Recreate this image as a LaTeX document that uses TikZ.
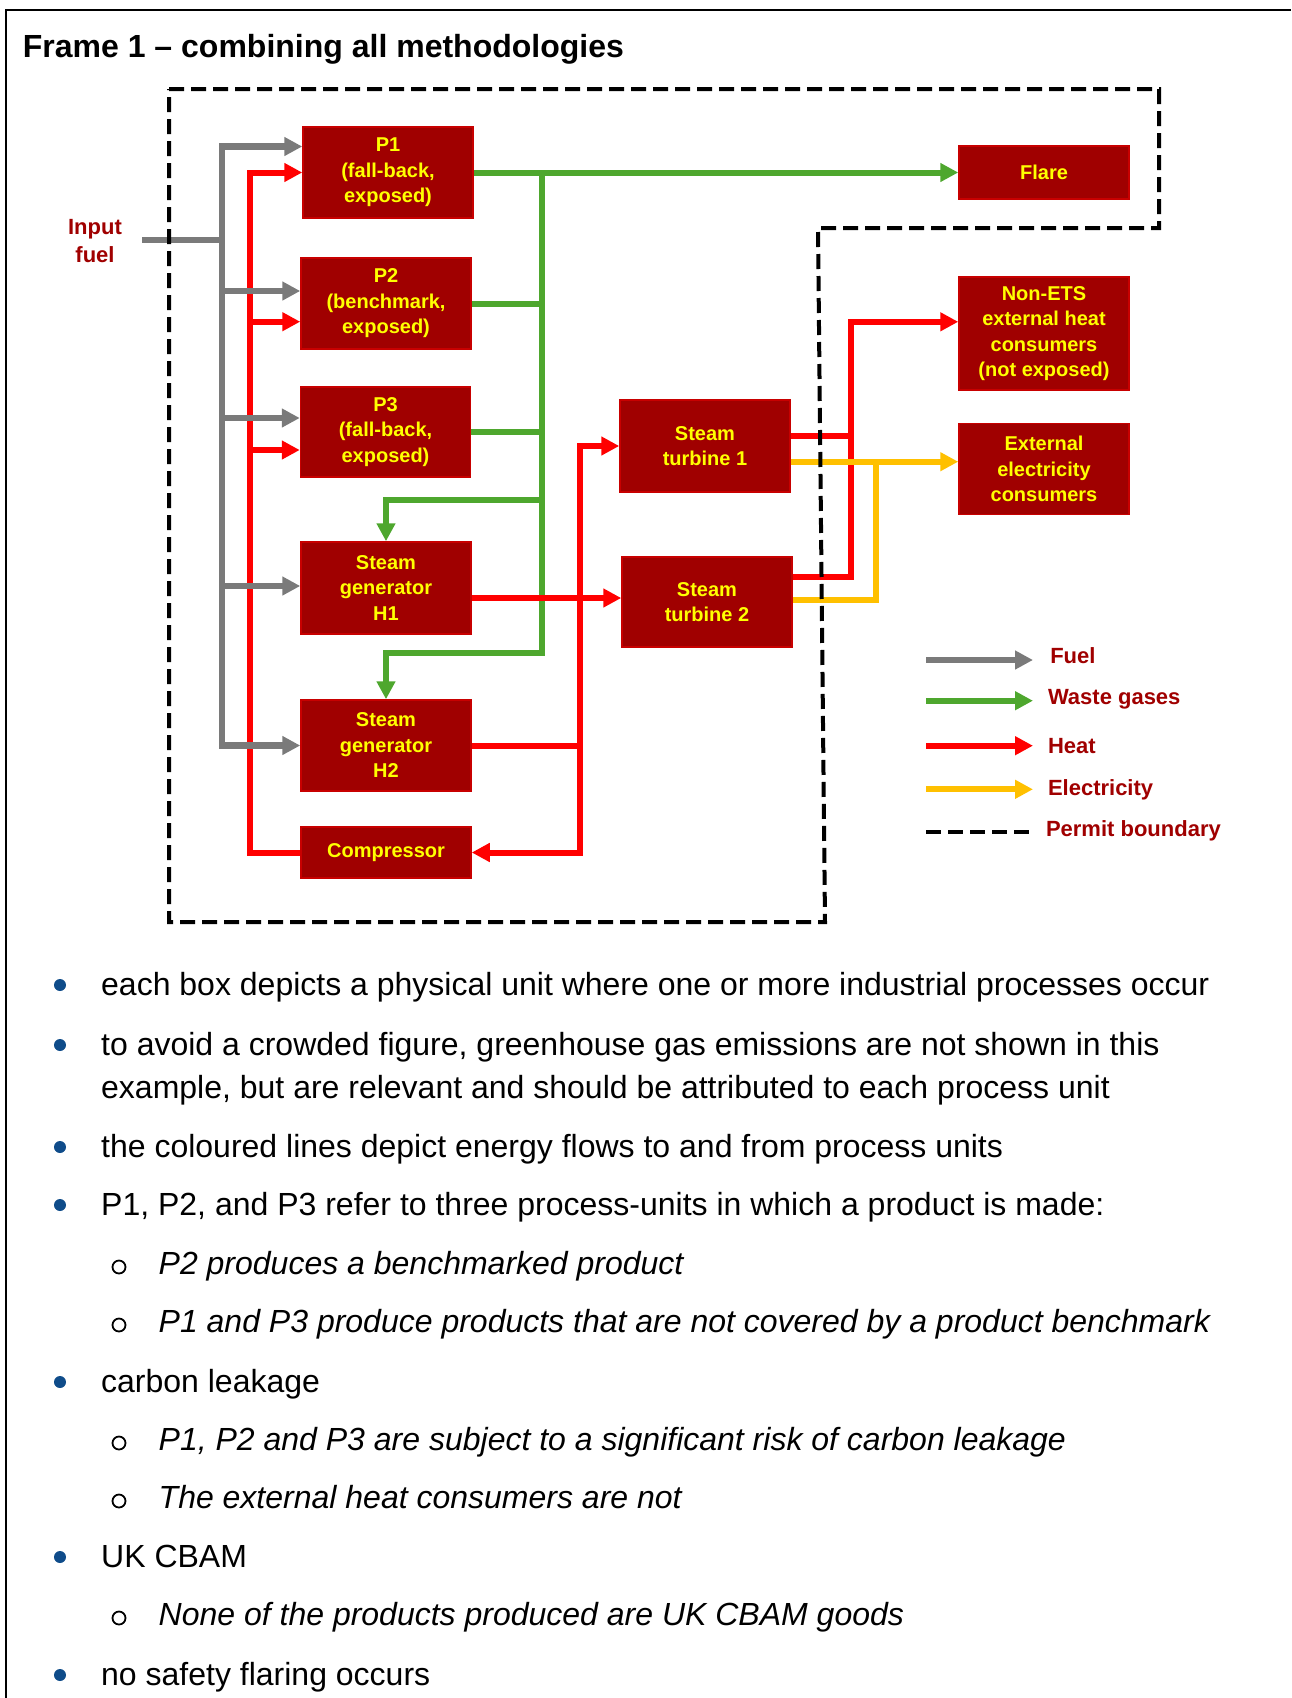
\documentclass[tikz,border=0pt]{standalone}
\usepackage{fontspec}
\setmainfont{Liberation Sans}
\usetikzlibrary{arrows.meta,calc}
\definecolor{unitred}{HTML}{A00000}
\definecolor{unitedge}{HTML}{C80000}
\definecolor{unittext}{HTML}{FFFF00}
\definecolor{labelred}{HTML}{A00000}
\definecolor{fuelgray}{HTML}{7A7A7A}
\definecolor{wastegreen}{HTML}{4EA72E}
\definecolor{heatred}{HTML}{FF0000}
\definecolor{elecyellow}{HTML}{FFC000}
\definecolor{bulletblue}{HTML}{0F4C8A}
\newcommand{\unitfont}{\fontsize{20}{25.5}\selectfont\bfseries}
\newcommand{\bodyfont}{\fontsize{32}{38}\selectfont}

\begin{document}
\begin{tikzpicture}[x=1pt,y=-1pt,>={Triangle[length=18pt,width=18pt]},
  unitbox/.style={draw=unitedge,line width=1.5pt,fill=unitred,text=unittext,font=\unitfont,
    align=center,minimum width=170pt,inner sep=0pt},
  fuelpipe/.style={draw=fuelgray,line width=6.5pt},
  wastepipe/.style={draw=wastegreen,line width=6pt},
  heatpipe/.style={draw=heatred,line width=6pt},
  elecpipe/.style={draw=elecyellow,line width=6pt},
  permit/.style={draw=black,line width=4pt,dash pattern=on 15pt off 7pt},
  legendtext/.style={text=labelred,font=\fontsize{22}{26}\selectfont\bfseries,anchor=west,inner sep=0pt},
  bullettext/.style={anchor=base west,font=\bodyfont,inner sep=0pt}]
\useasboundingbox (0,0) rectangle (1291,1698);
\draw[line width=2pt] (6,1698) -- (6,10) -- (1291,10);
\node[anchor=base west,inner sep=0pt,font=\fontsize{32}{38}\selectfont\bfseries] (title) at (22.7,57) {Frame 1 -- combining all methodologies};

\node[unitbox,minimum height=91pt] (p1) at (388,172.5) {P1\\(fall-back,\\exposed)};
\node[unitbox,minimum height=91pt] (p2) at (386,303.5) {P2\\(benchmark,\\exposed)};
\node[unitbox,minimum height=90pt] (p3) at (385.5,432) {P3\\(fall-back,\\exposed)};
\node[unitbox,minimum height=92pt] (h1) at (386,588) {Steam\\generator\\H1};
\node[unitbox,minimum height=91pt] (h2) at (386,745.5) {Steam\\generator\\H2};
\node[unitbox,minimum height=51pt] (comp) at (386,852.5) {Compressor};
\node[unitbox,minimum height=92pt] (st1) at (705,446) {Steam\\turbine 1};
\node[unitbox,minimum height=90pt] (st2) at (707,602) {Steam\\turbine 2};
\node[unitbox,minimum height=53pt] (flare) at (1044,172.5) {Flare};
\node[unitbox,minimum height=113pt] (nonets) at (1044,333.5) {Non-ETS\\external heat\\consumers\\(not exposed)};
\node[unitbox,minimum height=91pt] (extel) at (1044,469) {External\\electricity\\consumers};
\node[text=labelred,font=\fontsize{22}{28}\selectfont\bfseries,align=center,inner sep=0pt] (input) at (95,241) {Input\\fuel};

\coordinate (hl1) at (250,172.5);
\coordinate (hl2) at (250,321.7);
\coordinate (hl3) at (250,450);
\draw[heatpipe,->] (comp.west) -| (hl1) -- (p1.west);
\draw[heatpipe,->] (hl2) -- (hl2 -| p2.west);
\draw[heatpipe,->] (hl3) -- (hl3 -| p3.west);

\coordinate (fj0) at (222,240);
\coordinate (fj2) at (222,291);
\coordinate (fj3) at (222,418);
\coordinate (fj4) at (222,586);
\draw[fuelpipe,->] (142,240) -- (fj0) |- ([yshift=26pt]p1.west);
\draw[fuelpipe,->] (fj0) |- (h2.west);
\draw[fuelpipe,->] (fj2) -- (fj2 -| p2.west);
\draw[fuelpipe,->] (fj3) -- (fj3 -| p3.west);
\draw[fuelpipe,->] (fj4) -- (fj4 -| h1.west);

\coordinate (wj1) at (541.5,172.5);
\coordinate (wj3) at (541.5,500);
\coordinate (wj4) at (541.5,653.3);
\draw[wastepipe,->] (p1.east) -- (flare.west);
\draw[wastepipe,->] (wj1) -- (wj4) -| (h2.north);
\draw[wastepipe] (p2.east) -- (p2.east -| wj1);
\draw[wastepipe] (p3.east) -- (p3.east -| wj1);
\draw[wastepipe,->] (wj3) -| (h1.north);

\coordinate (h1out) at ([yshift=-10pt]h1.east);
\coordinate (hm) at (580,745.5);
\draw[heatpipe,->] (h1out) -- (h1out -| st2.west);
\draw[heatpipe,->] (h2.east) -- (hm) |- (st1.west);
\draw[heatpipe,->] (hm) |- (comp.east);

\coordinate (st1h) at ([yshift=10pt]st1.east);
\coordinate (st1e) at ([yshift=-15.7pt]st1.east);
\coordinate (st2h) at ([yshift=25pt]st2.east);
\coordinate (st2e) at ([yshift=2pt]st2.east);
\coordinate (hr) at (850.7,321.8);
\coordinate (ej) at (876,461.7);
\draw[heatpipe] (st1h) -- (st1h -| hr);
\draw[heatpipe,->] (st2h) -| (hr) -- (hr -| nonets.west);
\draw[elecpipe,->] (st1e) -- (st1e -| extel.west);
\draw[elecpipe] (st2e) -| (ej);

\draw[permit] (169,89) -- (1159,89) -- (1159,228) -- (818,228) -- (825,922) -- (169,922) -- cycle;

\coordinate (lg1) at (926,660);
\coordinate (lg2) at (926,700.7);
\coordinate (lg3) at (926,745.7);
\coordinate (lg4) at (926,789.3);
\coordinate (lg5) at (926,831.7);
\draw[fuelpipe,->] (lg1) -- ++(107,0) node[legendtext,right=14pt,yshift=4pt] (lfuel) {Fuel};
\draw[wastepipe,->] (lg2) -- ++(107,0) node[legendtext,right=12pt,yshift=1pt] (lwaste) {Waste gases};
\draw[heatpipe,->] (lg3) -- ++(107,0) node[legendtext,right=12pt] (lheat) {Heat};
\draw[elecpipe,->] (lg4) -- ++(107,0) node[legendtext,right=12pt] (lelec) {Electricity};
\draw[permit] (lg5) -- ++(104,0) node[legendtext,right=14pt,yshift=1pt] (lpermit) {Permit boundary};

\fill[bulletblue] (60,985) circle (6pt);
\fill[bulletblue] (60,1045) circle (6pt);
\fill[bulletblue] (60,1147) circle (6pt);
\fill[bulletblue] (60,1205) circle (6pt);
\fill[bulletblue] (60,1382) circle (6pt);
\fill[bulletblue] (60,1557) circle (6pt);
\fill[bulletblue] (60,1675) circle (6pt);
\draw[line width=1.8pt] (119,1267) circle (6.5pt);
\draw[line width=1.8pt] (119,1325) circle (6.5pt);
\draw[line width=1.8pt] (119,1443) circle (6.5pt);
\draw[line width=1.8pt] (119,1501) circle (6.5pt);
\draw[line width=1.8pt] (119,1618) circle (6.5pt);
\node[bullettext] (t1) at (101,995) {each box depicts a physical unit where one or more industrial processes occur};
\node[bullettext] (t2) at (101,1055) {to avoid a crowded figure, greenhouse gas emissions are not shown in this};
\node[bullettext] (t2b) at (101,1098) {example, but are relevant and should be attributed to each process unit};
\node[bullettext] (t3) at (101,1157) {the coloured lines depict energy flows to and from process units};
\node[bullettext] (t4) at (101,1215) {P1, P2, and P3 refer to three process-units in which a product is made:};
\node[bullettext,font=\bodyfont\itshape] (t4a) at (158.5,1274) {P2 produces a benchmarked product};
\node[bullettext,font=\bodyfont\itshape] (t4b) at (158.5,1332) {P1 and P3 produce products that are not covered by a product benchmark};
\node[bullettext] (t5) at (101,1392) {carbon leakage};
\node[bullettext,font=\bodyfont\itshape] (t5a) at (158.5,1450) {P1, P2 and P3 are subject to a significant risk of carbon leakage};
\node[bullettext,font=\bodyfont\itshape] (t5b) at (158.5,1508) {The external heat consumers are not};
\node[bullettext] (t6) at (101,1567) {UK CBAM};
\node[bullettext,font=\bodyfont\itshape] (t6a) at (158.5,1625) {None of the products produced are UK CBAM goods};
\node[bullettext] (t7) at (101,1685) {no safety flaring occurs};
\end{tikzpicture}
\end{document}
